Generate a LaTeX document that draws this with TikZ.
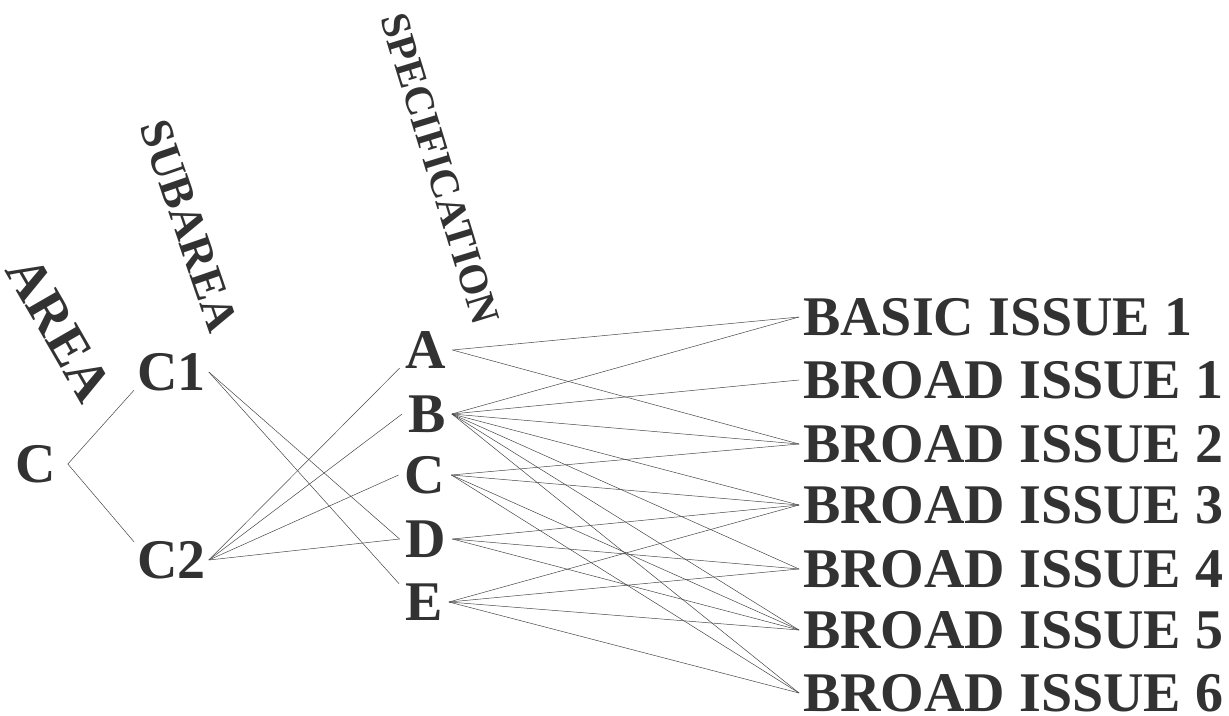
\documentclass[tikz,border=0pt]{standalone}
\usepackage{fontspec}
\setmainfont{Liberation Serif}
\definecolor{txt}{RGB}{50,50,50}
\definecolor{ln}{RGB}{70,70,70}
\begin{document}
\begin{tikzpicture}[x=1pt,y=-1pt,
  big/.style={font=\fontsize{56}{60}\selectfont\bfseries, text=txt, inner ysep=0pt, text height=36pt, text depth=0pt},
  spec/.style={big, inner xsep=6pt, anchor=base},
  issue/.style={big, inner xsep=4pt, anchor=base west},
  top/.style={text=txt, inner sep=0pt},
  wire/.style={draw=ln, line width=0.5pt}]
\useasboundingbox (0,0) rectangle (1229,715);
% rotated headings
\node[top, font=\fontsize{55}{60}\selectfont\bfseries, rotate=-60] (hArea) at (59,329) {AREA};
\node[top, font=\fontsize{46}{50}\selectfont\bfseries, rotate=-71] (hSub) at (189,226) {SUBAREA};
\node[top, font=\fontsize{41}{45}\selectfont\bfseries, rotate=-73] (hSpec) at (440,169) {SPECIFICATION};
% left tree
\node[big, inner xsep=12pt, anchor=base west] (C) at (3,482) {C};
\node[big, inner xsep=3pt, anchor=base west] (C1) at (134,390) {C1};
\node[big, inner xsep=3pt, anchor=base west] (C2) at (134,578) {C2};
% specifications
\node[spec] (A) at (426,368) {A};
\node[spec] (B) at (427,432) {B};
\node[spec] (SC) at (425,493) {C};
\node[spec] (D) at (426,557) {D};
\node[spec] (E) at (424,620) {E};
% issues
\node[issue] (I0) at (799,335) {BASIC ISSUE 1};
\node[issue] (I1) at (799,398) {BROAD ISSUE 1};
\node[issue] (I2) at (799,462) {BROAD ISSUE 2};
\node[issue] (I3) at (799,523) {BROAD ISSUE 3};
\node[issue] (I4) at (799,587) {BROAD ISSUE 4};
\node[issue] (I5) at (799,648) {BROAD ISSUE 5};
\node[issue] (I6) at (799,711) {BROAD ISSUE 6};
% connectors
\draw[wire] (C.east) -- (C1.south west);
\draw[wire] (C.east) -- (C2.north west);
\draw[wire] (C1.east) -- (D.west);
\draw[wire] (C1.east) -- (E.north west);
\draw[wire] (C2.east) -- (A.south west);
\draw[wire] (C2.east) -- (B.west);
\draw[wire] (C2.east) -- (SC.west);
\draw[wire] (C2.east) -- (D.west);
\foreach \t in {I0,I2} \draw[wire] (A.east) -- (\t.west);
\foreach \t in {I0,I1,I2,I3,I4,I5,I6} \draw[wire] (B.east) -- (\t.west);
\foreach \t in {I2,I3,I5,I6} \draw[wire] (SC.east) -- (\t.west);
\foreach \t in {I3,I4,I5} \draw[wire] (D.east) -- (\t.west);
\foreach \t in {I3,I4,I5,I6} \draw[wire] (E.east) -- (\t.west);
\end{tikzpicture}
\end{document}
